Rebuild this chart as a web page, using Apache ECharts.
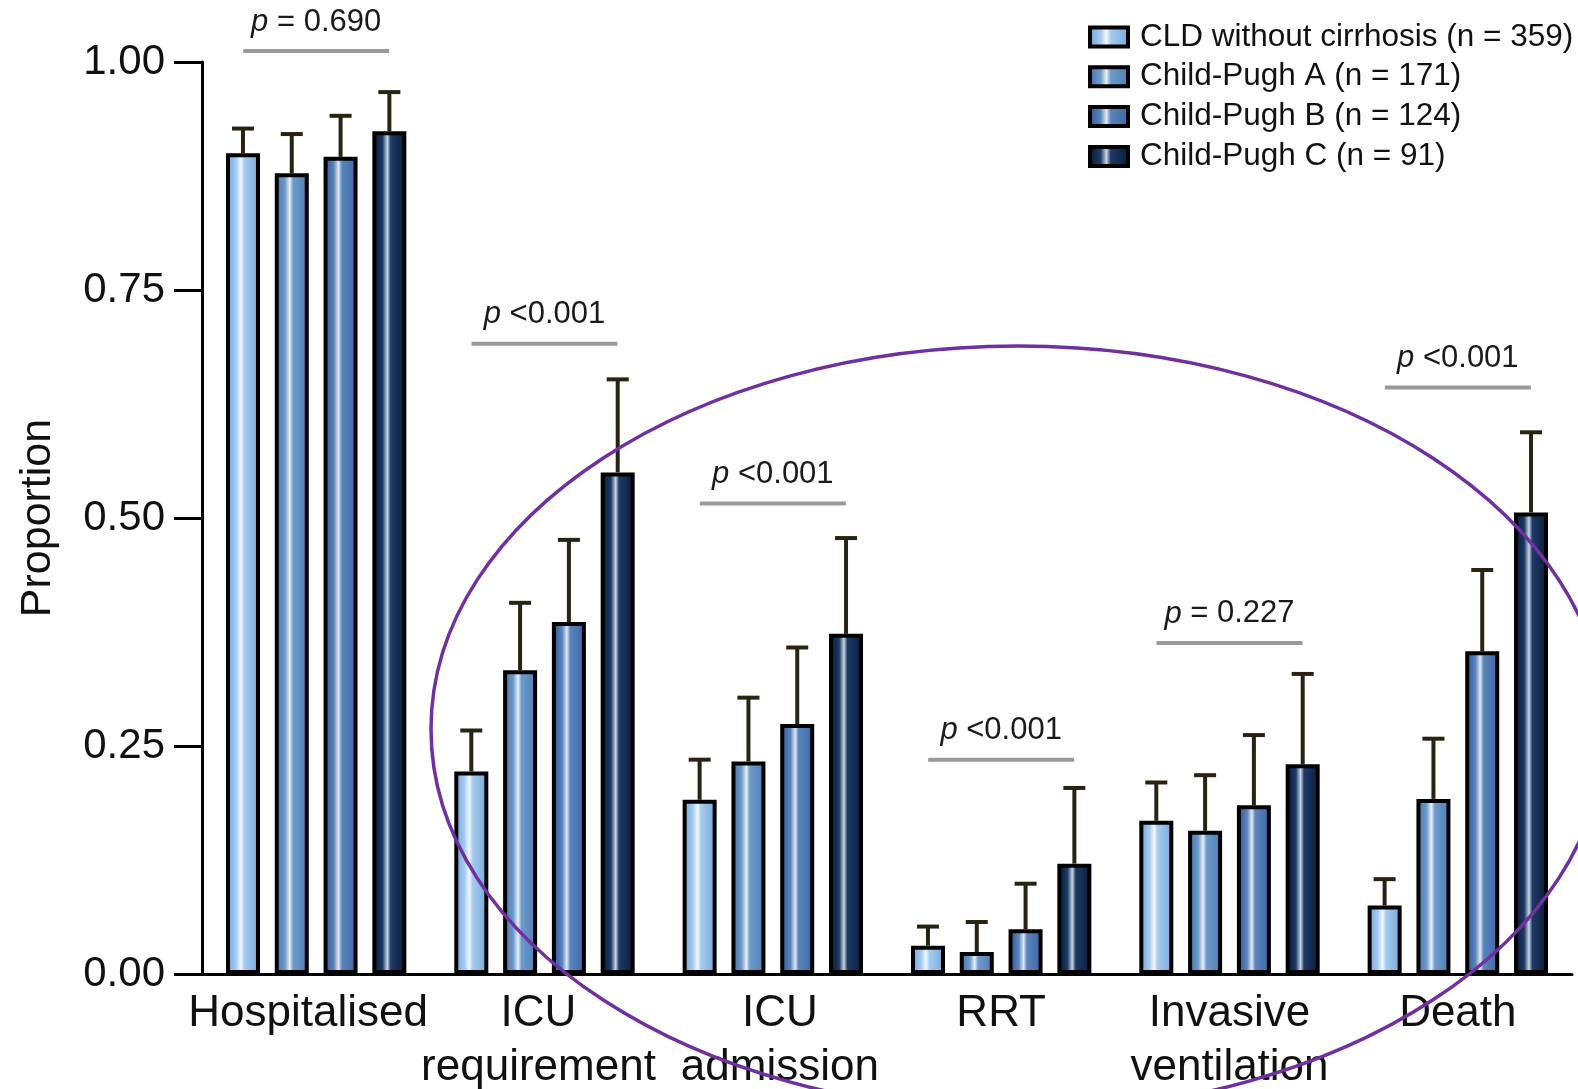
<!DOCTYPE html>
<html>
<head>
<meta charset="utf-8">
<title>Outcomes by liver disease severity</title>
<script src="https://cdn.jsdelivr.net/npm/echarts@6/dist/echarts.min.js"></script>
<style>
  html, body { margin: 0; padding: 0; background: #ffffff; }
  #chart { width: 1578px; height: 1089px; }
</style>
</head>
<body>
<div id="chart"></div>
<script>
// Outcome categories (x axis)
const categories = ['Hospitalised', 'ICU\nrequirement', 'ICU\nadmission', 'RRT', 'Invasive\nventilation', 'Death'];

// Group names
const seriesNames = [
  'CLD without cirrhosis (n = 359)',
  'Child-Pugh A (n = 171)',
  'Child-Pugh B (n = 124)',
  'Child-Pugh C (n = 91)'
];

// Proportions per group
const cldValues = [0.900, 0.222, 0.191, 0.031, 0.168, 0.075];
const cpAValues = [0.878, 0.333, 0.233, 0.024, 0.157, 0.192];
const cpBValues = [0.896, 0.386, 0.274, 0.049, 0.185, 0.354];
const cpCValues = [0.924, 0.550, 0.373, 0.121, 0.230, 0.506];

// Upper confidence limits per group
const cldUpper = [0.927, 0.267, 0.235, 0.052, 0.210, 0.104];
const cpAUpper = [0.921, 0.407, 0.303, 0.057, 0.218, 0.258];
const cpBUpper = [0.941, 0.476, 0.358, 0.099, 0.262, 0.443];
const cpCUpper = [0.967, 0.652, 0.478, 0.204, 0.329, 0.594];

// p values for each outcome and the level of their bracket (axis units)
const pValues = ['= 0.690', '<0.001', '<0.001', '<0.001', '= 0.227', '<0.001'];
const pBracketLevel = [1.012, 0.691, 0.516, 0.235, 0.363, 0.643];

// Y axis ticks
const yTicks = [0, 0.25, 0.5, 0.75, 1.0];

const FONT = "'Liberation Sans', Arial, Helvetica, sans-serif";
const BAR_W = 34;          // outer width; the border is drawn inside it
const BAR_BORDER = 4;
const BAR_GAP = 14.8;
const STEP = BAR_W + BAR_GAP;

// Glossy vertical-stripe fills for each group
function glossy(edgeL, mid, hi, edgeR) {
  return {
    type: 'linear', x: 0, y: 0, x2: 1, y2: 0,
    colorStops: [
      { offset: 0, color: edgeL },
      { offset: 0.30, color: mid },
      { offset: 0.44, color: hi },
      { offset: 0.54, color: mid },
      { offset: 1, color: edgeR }
    ]
  };
}
const fills = [
  glossy('#6a9fd6', '#a6cbef', '#f3f8ff', '#72a6da'),
  glossy('#3d6ea6', '#6e9bcb', '#e8f0f8', '#4b7cb2'),
  glossy('#2b5290', '#5a84bc', '#e0e8f3', '#3a65a2'),
  glossy('#06142b', '#1c3a66', '#c9d5e5', '#0a1a36')
];

const allValues = [cldValues, cpAValues, cpBValues, cpCValues];
const allUpper = [cldUpper, cpAUpper, cpBUpper, cpCUpper];

const barSeries = seriesNames.map((name, s) => ({
  name: name,
  type: 'bar',
  data: allValues[s],
  barWidth: BAR_W,
  barGap: (BAR_GAP / BAR_W * 100).toFixed(1) + '%',
  itemStyle: { color: fills[s], borderColor: '#000000', borderWidth: BAR_BORDER },
  emphasis: { disabled: true },
  z: 2
}));

// Error bar data: [category, value, upper, group]
const errorData = [];
allValues.forEach((vals, s) => {
  vals.forEach((v, i) => errorData.push([i, v, allUpper[s][i], s]));
});

const errorSeries = {
  type: 'custom',
  name: 'errors',
  data: errorData,
  z: 3,
  silent: true,
  renderItem: function (params, api) {
    const cat = api.value(0), lo = api.value(1), hi = api.value(2), s = api.value(3);
    const p0 = api.coord([cat, lo]);
    const p1 = api.coord([cat, hi]);
    const x = p0[0] + (s - 1.5) * STEP;
    const st = { stroke: '#2a2314', lineWidth: 4, fill: null };
    return {
      type: 'group',
      children: [
        { type: 'line', shape: { x1: x, y1: p0[1], x2: x, y2: p1[1] }, style: st },
        { type: 'line', shape: { x1: x - 11, y1: p1[1], x2: x + 11, y2: p1[1] }, style: st }
      ]
    };
  }
};

// p-value brackets above each outcome
const pSeries = {
  type: 'custom',
  name: 'pvalues',
  data: pBracketLevel.map((lvl, i) => [i, lvl]),
  z: 4,
  silent: true,
  clip: false,
  renderItem: function (params, api) {
    const p = api.coord([api.value(0), api.value(1)]);
    const label = pValues[params.dataIndex];
    return {
      type: 'group',
      children: [
        { type: 'line', shape: { x1: p[0] - 73, y1: p[1], x2: p[0] + 73, y2: p[1] },
          style: { stroke: '#9a9a9a', lineWidth: 4 } },
        { type: 'text', x: p[0], y: p[1] - 29,
          style: {
            text: '{i|p} ' + label,
            align: 'center', verticalAlign: 'middle',
            font: '31px ' + FONT, fill: '#1a1a1a',
            rich: { i: { fontStyle: 'italic', fontSize: 31, fontFamily: FONT, fill: '#1a1a1a' } }
          } }
      ]
    };
  }
};

// Category label nudges (rich styles pad one side to shift the centred text)
const labelRich = {
  base: { fontSize: 44, fontFamily: FONT, color: '#111111', lineHeight: 54 },
  left8: { fontSize: 44, fontFamily: FONT, color: '#111111', lineHeight: 54, padding: [0, 16, 0, 0] },
  left6: { fontSize: 44, fontFamily: FONT, color: '#111111', lineHeight: 54, padding: [0, 12, 0, 0] },
  right7: { fontSize: 44, fontFamily: FONT, color: '#111111', lineHeight: 54, padding: [0, 0, 0, 14] }
};
const labelStyleKey = ['left8', 'left6', 'right7', 'base', 'base', 'base'];

const chart = echarts.init(document.getElementById('chart'), null, { renderer: 'canvas' });

chart.setOption({
  backgroundColor: '#ffffff',
  animation: false,
  textStyle: { fontFamily: FONT },
  grid: { left: 202, right: 6, top: 62, bottom: 115, containLabel: false, outerBoundsMode: 'none' },
  legend: {
    data: seriesNames,
    orient: 'vertical',
    left: 1083,
    top: 16,
    icon: 'rect',
    itemWidth: 38,
    itemHeight: 19,
    itemGap: 7.8,
    selectedMode: false,
    itemStyle: { borderColor: '#000000', borderWidth: 4 },
    textStyle: { fontSize: 31.5, color: '#111111', fontFamily: FONT, lineHeight: 31, padding: [0, 0, 0, 7] }
  },
  xAxis: {
    type: 'category',
    data: categories,
    axisLine: { lineStyle: { color: '#000000', width: 3 } },
    axisTick: { show: false },
    axisLabel: {
      color: '#111111', fontSize: 44, lineHeight: 54, margin: 13, fontFamily: FONT, interval: 0,
      formatter: function (value, index) {
        const key = labelStyleKey[index];
        return value.split('\n').map(line => '{' + key + '|' + line + '}').join('\n');
      },
      rich: labelRich
    },
    splitLine: { show: false }
  },
  yAxis: {
    type: 'value',
    min: 0,
    max: 1,
    interval: 0.25,
    name: 'Proportion',
    nameLocation: 'middle',
    nameGap: 142,
    nameTextStyle: { color: '#111111', fontSize: 43, fontFamily: FONT },
    axisLine: { show: true, lineStyle: { color: '#000000', width: 3 } },
    axisTick: { show: true, inside: false, length: 28, lineStyle: { color: '#000000', width: 3 } },
    axisLabel: {
      color: '#111111', fontSize: 42, margin: 37, fontFamily: FONT,
      formatter: v => (yTicks.indexOf(v) >= 0 ? v.toFixed(2) : '')
    },
    splitLine: { show: false }
  },
  series: barSeries.concat([errorSeries, pSeries]),
  graphic: [
    {
      type: 'ellipse',
      shape: { cx: 1018, cy: 729, rx: 587, ry: 383 },
      style: { fill: null, stroke: '#7030a0', lineWidth: 3.5 },
      silent: true,
      z: 100
    }
  ]
});
</script>
</body>
</html>
